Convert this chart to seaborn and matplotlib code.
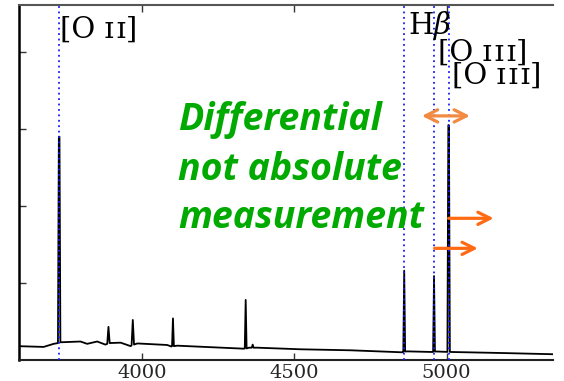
import matplotlib
matplotlib.use("Agg")
import matplotlib.pyplot as plt
import seaborn as sns
import pandas as pd

# ---- data ----
wave = [3590, 3676, 3709, 3723, 3726, 3728, 3731, 3797, 3819, 3852, 3879, 3885, 3889, 3893,
        3929, 3962, 3965, 3969, 3973, 3984, 4082, 4096, 4098, 4101, 4104, 4115,
        4334, 4337, 4340, 4343, 4351, 4360, 4363, 4366, 4378, 4521, 4685,
        4855, 4858, 4861, 4864, 4872, 4954, 4956, 4959, 4962, 4970,
        5003, 5006, 5008, 5011, 5017, 5179, 5360]
flux = [0.18, 0.17, 0.21, 0.22, 2.90, 2.90, 0.23, 0.24, 0.21, 0.24, 0.20, 0.21, 0.43, 0.22,
        0.225, 0.18, 0.19, 0.52, 0.20, 0.215, 0.195, 0.175, 0.18, 0.54, 0.18, 0.186,
        0.147, 0.15, 0.78, 0.15, 0.16, 0.16, 0.20, 0.16, 0.16, 0.139, 0.126,
        0.10, 0.105, 1.16, 0.11, 0.112, 0.104, 0.105, 1.09, 0.11, 0.11,
        0.105, 3.05, 3.05, 0.105, 0.104, 0.091, 0.074]

line_waves = [3727, 4861, 4959, 5007]
line_labels = ["[O ɪ\u200aɪ]", r"H$\beta$", "[O ɪ\u200aɪ\u200aɪ]", "[O ɪ\u200aɪ\u200aɪ]"]
label_x = [3731, 4873, 4971, 5017]
label_y = [4.29, 4.34, 3.99, 3.69]

x_ticks = [4000, 4500, 5000]
y_ticks = [1, 2, 3, 4]

note_lines = ["Differential", "not absolute", "measurement"]
note_y = [2.99, 2.34, 1.71]

# arrows: (x_start, x_end, y, style)
arrow_x0 = [4919, 5007, 4961]
arrow_x1 = [5077, 5155, 5103]
arrow_y = [3.17, 1.84, 1.45]
arrow_style = ["<->", "->", "->"]
arrow_color = ["#F28A42", "#FF6A13", "#FF6A13"]

# ---- plotting ----
sns.set_theme(style="ticks")
plt.rcParams["mathtext.fontset"] = "dejavuserif"
serif = ["DejaVu Serif"]

fig = plt.figure(figsize=(5.64, 3.81), dpi=100)
ax = fig.add_axes([19 / 564, 21 / 381, (553 - 19) / 564, 355 / 381])

df = pd.DataFrame({"wave": wave, "flux": flux})
sns.lineplot(data=df, x="wave", y="flux", ax=ax, color="black", lw=1.3,
             estimator=None, sort=False, zorder=2)

for w in line_waves:
    ax.axvline(w, color="#1a1aff", ls=(0, (1, 2)), lw=1.3, zorder=3)

for t, x, y in zip(line_labels, label_x, label_y):
    ax.text(x, y, t, fontsize=21, family=serif, va="center", ha="left", color="black")

for t, y in zip(note_lines, note_y):
    ax.text(4117, y, t, fontsize=27, family="Open Sans", fontweight="bold", style="italic",
            color="#00AA00", va="baseline", ha="left")

for x0, x1, y, st, c in zip(arrow_x0, arrow_x1, arrow_y, arrow_style, arrow_color):
    ax.annotate("", xy=(x1, y), xytext=(x0, y),
                arrowprops=dict(arrowstyle=st, color=c, lw=2.3, mutation_scale=22,
                                shrinkA=0, shrinkB=0))

ax.set_xlim(3595, 5350)
ax.set_ylim(0, 4.61)
ax.set_xticks(x_ticks)
ax.set_xticklabels([str(v) for v in x_ticks], family=serif, fontsize=14)
ax.set_yticks(y_ticks)
ax.set_yticklabels([])
ax.set_xlabel("")
ax.set_ylabel("")
ax.tick_params(axis="both", direction="in", length=5, width=1, color="#333333",
               top=True, bottom=True, left=True, right=False, pad=3)
ax.spines["right"].set_visible(False)
ax.spines["left"].set_linewidth(1.8)
ax.spines["left"].set_color("black")
ax.spines["bottom"].set_linewidth(1.5)
ax.spines["bottom"].set_color("#222222")
ax.spines["top"].set_linewidth(1.5)
ax.spines["top"].set_color("#555555")

fig.savefig("out.png", dpi=100)
